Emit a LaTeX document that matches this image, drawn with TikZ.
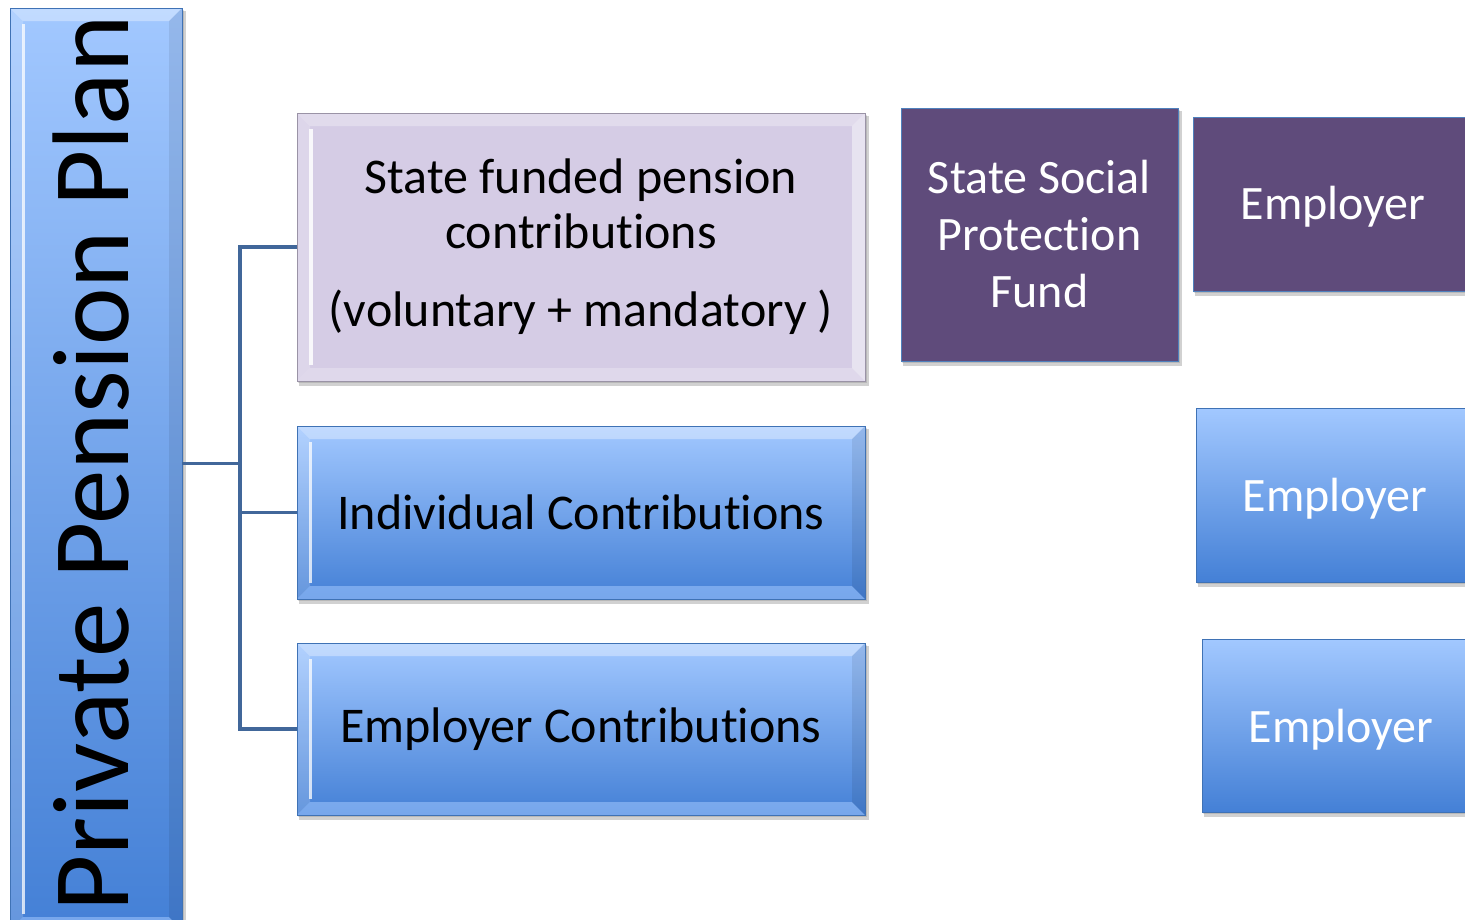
\documentclass[tikz,border=0pt]{standalone}
\usepackage{fontspec}
\setmainfont[Ligatures=NoCommon]{Carlito}
\definecolor{blA}{HTML}{A2C8FF}
\definecolor{blB}{HTML}{4480D6}
\definecolor{blEdge}{HTML}{3F72B5}
\definecolor{lav}{HTML}{D5CCE5}
\definecolor{lavEdge}{HTML}{9A93A6}
\definecolor{purp}{HTML}{5F4B7B}
\definecolor{purpEdge}{HTML}{4F81BD}
\definecolor{conncol}{HTML}{41679A}
\newcommand\shadowbox[4]{%
  \fill[black,opacity=0.18] ({#1+2},{#2+3}) rectangle ({#3+4},{#4+5});
  \fill[black,opacity=0.12] ({#1+1},{#2+2}) rectangle ({#3+2},{#4+2});}
\newcommand\bevblue[4]{%
  \shadowbox{#1}{#2}{#3}{#4}
  \shade[top color=blA,bottom color=blB] (#1,#2) rectangle (#3,#4);
  \fill[white,opacity=0.35] (#1,#2) -- (#3,#2) -- ({#3-13},{#2+13}) -- ({#1+13},{#2+13}) -- cycle;
  \fill[blA,opacity=0.55] (#1,#4) -- (#3,#4) -- ({#3-13},{#4-13}) -- ({#1+13},{#4-13}) -- cycle;
  \fill[white,opacity=0.18] (#1,#2) -- ({#1+13},{#2+13}) -- ({#1+13},{#4-13}) -- (#1,#4) -- cycle;
  \fill[black,opacity=0.08] (#3,#2) -- ({#3-13},{#2+13}) -- ({#3-13},{#4-13}) -- (#3,#4) -- cycle;
  \fill[white,opacity=0.75] ({#1+12},{#2+16}) rectangle ({#1+15},{#4-16});
  \draw[blEdge,line width=1pt] (#1,#2) rectangle (#3,#4);}
\newcommand\bevlav[4]{%
  \shadowbox{#1}{#2}{#3}{#4}
  \fill[lav] (#1,#2) rectangle (#3,#4);
  \fill[white,opacity=0.30] (#1,#2) -- (#3,#2) -- ({#3-13},{#2+13}) -- ({#1+13},{#2+13}) -- cycle;
  \fill[white,opacity=0.25] (#1,#4) -- (#3,#4) -- ({#3-13},{#4-13}) -- ({#1+13},{#4-13}) -- cycle;
  \fill[white,opacity=0.20] (#1,#2) -- ({#1+13},{#2+13}) -- ({#1+13},{#4-13}) -- (#1,#4) -- cycle;
  \fill[white,opacity=0.45] (#3,#2) -- ({#3-13},{#2+13}) -- ({#3-13},{#4-13}) -- (#3,#4) -- cycle;
  \fill[white,opacity=0.85] ({#1+12},{#2+16}) rectangle ({#1+16},{#4-16});
  \draw[lavEdge,line width=1pt] (#1,#2) rectangle (#3,#4);}
\newcommand\flatpurp[4]{%
  \shadowbox{#1}{#2}{#3}{#4}
  \fill[purp] (#1,#2) rectangle (#3,#4);
  \draw[purpEdge,line width=1pt] (#1,#2) rectangle (#3,#4);}
\newcommand\flatblue[4]{%
  \shadowbox{#1}{#2}{#3}{#4}
  \shade[top color=blA,bottom color=blB] (#1,#2) rectangle (#3,#4);
  \draw[blEdge,line width=1pt] (#1,#2) rectangle (#3,#4);}
\tikzset{
  lbl/.style={draw=none,inner sep=0pt,align=center,font=\fontsize{50}{55}\selectfont},
  rlbl/.style={lbl,text=white,font=\fontsize{48}{57}\selectfont},
  conn/.style={draw=conncol,line width=3.5pt}
}
\begin{document}
\begin{tikzpicture}[x=1pt,y=-1pt]
\useasboundingbox (0,0) rectangle (1465,919);
% left bar
\bevblue{10}{8}{182}{930}
% main boxes
\bevlav{297}{113}{865}{381}
\bevblue{297}{426}{865}{599}
\bevblue{297}{643}{865}{815}
% right boxes
\flatpurp{901}{108}{1178}{361}
\flatpurp{1193}{117}{1475}{291}
\flatblue{1196}{408}{1475}{582}
\flatblue{1202}{639}{1475}{812}
% nodes
\node[lbl,minimum width=172pt,minimum height=911pt] (bar) at (96,463.5)
  {\makebox[0pt]{\hspace*{-10pt}\rotatebox{90}{\fontsize{109}{112}\selectfont Private Pension Plan}}};
\node[lbl,minimum width=568pt,minimum height=268pt] (s1) at (581,247)
  {State funded pension\\contributions\\[23pt](voluntary + mandatory )};
\node[lbl,minimum width=568pt,minimum height=173pt] (s2) at (581,512.5) {Individual Contributions};
\node[lbl,minimum width=568pt,minimum height=172pt] (s3) at (581,729) {Employer Contributions};
\node[rlbl,minimum width=277pt,minimum height=253pt] (f) at (1039.5,234.5)
  {State Social\\Protection\\Fund};
\node[rlbl] (e1) at (1333,207) {Employer};
\node[rlbl] (e2) at (1335,499) {Employer};
\node[rlbl] (e3) at (1341,730) {Employer};
% connectors
\draw[conn] (bar.east) -- ++(58,0) coordinate (j) |- (s1.west);
\draw[conn] (j) |- (s2.west);
\draw[conn] (j) |- (s3.west);
\end{tikzpicture}
\end{document}
